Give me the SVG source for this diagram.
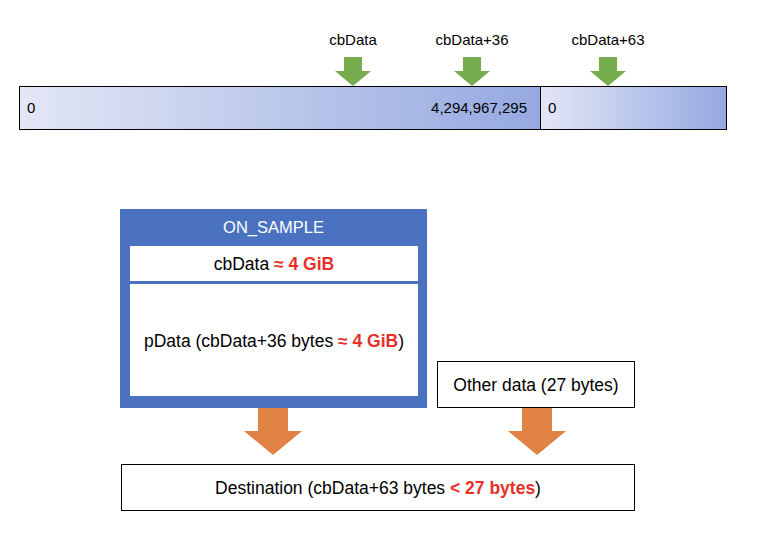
<svg xmlns="http://www.w3.org/2000/svg" width="778" height="533" viewBox="0 0 778 533">
<defs>
<linearGradient id="g" x1="0" y1="0" x2="1" y2="0">
<stop offset="0" stop-color="#E3E7F5"/>
<stop offset="1" stop-color="#95A9E1"/>
</linearGradient>
<style>
text{font-family:"Liberation Sans",Arial,sans-serif;font-size:15px;fill:#000}
.big{font-size:17.5px}
.red{fill:#E8302A;font-weight:bold}
.bar{fill:url(#g);stroke:#000;stroke-width:1}
.box{fill:#fff;stroke:#000;stroke-width:1}
.green{fill:#76AB4E}
.orange{fill:#E08243}
</style>
</defs>
<g id="bar-left"><rect class="bar" x="19.5" y="86.5" width="521" height="43"/>
<text x="27" y="113">0</text>
<text x="527" y="113" text-anchor="end">4,294,967,295</text></g>
<g id="bar-right"><rect class="bar" x="540.5" y="86.5" width="186" height="43"/>
<text x="548" y="113">0</text></g>
<g id="connectors">
<g id="arrow-cbData"><text x="353" y="45" text-anchor="middle">cbData</text>
<polygon class="green" points="344,57 362,57 362,71 371,71 353,86 335,71 344,71"/></g>
<g id="arrow-cbData36"><text x="472" y="45" text-anchor="middle">cbData+36</text>
<polygon class="green" points="463,57 481,57 481,71 490,71 472,86 454,71 463,71"/></g>
<g id="arrow-cbData63"><text x="608" y="45" text-anchor="middle">cbData+63</text>
<polygon class="green" points="599,57 617,57 617,71 626,71 608,86 590,71 599,71"/></g>
<polygon class="orange" points="258,408 288,408 288,431 302,431 273,455 244,431 258,431"/>
<polygon class="orange" points="522,408 552,408 552,431 566,431 537,455 508,431 522,431"/>
</g>
<g id="on-sample">
<rect x="120" y="209" width="307" height="199" fill="#4A72C0"/>
<text class="big" x="273.5" y="233" text-anchor="middle" style="fill:#fff;font-size:16.5px">ON_SAMPLE</text>
<rect x="130" y="246" width="288" height="35" fill="#fff"/>
<text class="big" x="274" y="270" text-anchor="middle">cbData <tspan class="red">≈ 4 GiB</tspan></text>
<rect x="130" y="284" width="288" height="112" fill="#fff"/>
<text class="big" x="274" y="347" text-anchor="middle">pData (cbData+36 bytes <tspan class="red">≈ 4 GiB</tspan>)</text>
</g>
<g id="other-data"><rect class="box" x="437.5" y="361.5" width="197" height="46"/>
<text class="big" x="536" y="391" text-anchor="middle">Other data (27 bytes)</text></g>
<g id="destination"><rect class="box" x="121.5" y="464.5" width="513" height="46"/>
<text class="big" x="378" y="494" text-anchor="middle">Destination (cbData+63 bytes <tspan class="red">&lt; 27 bytes</tspan>)</text></g>
</svg>
